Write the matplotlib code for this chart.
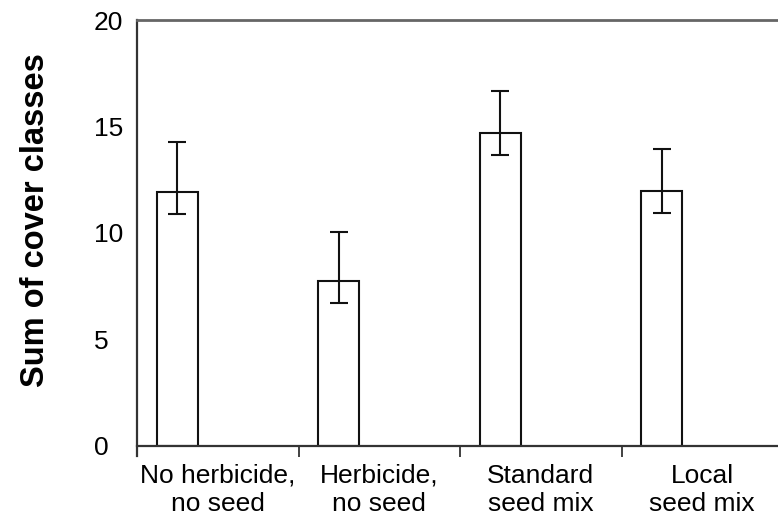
import numpy as np
import matplotlib
matplotlib.use('Agg')
import matplotlib.pyplot as plt

# treatments and cover-class sums
treatments = ['No herbicide,\nno seed', 'Herbicide,\nno seed', 'Standard\nseed mix', 'Local\nseed mix']
means = [11.9, 7.75, 14.7, 11.95]
err_hi = [14.25, 10.05, 16.65, 13.95]
err_lo = [10.9, 6.7, 13.65, 10.95]
yticks = [0, 5, 10, 15, 20]

plt.rcParams['font.family'] = ['Liberation Sans', 'DejaVu Sans']

fig = plt.figure(figsize=(7.78, 5.17), dpi=100)
W, H = 778.0, 517.0
ax = fig.add_axes([137 / W, (H - 445.7) / H, 646 / W, 425.7 / H])

x = np.arange(len(means)) + 0.25
means = np.array(means)
yerr = [means - np.array(err_lo), np.array(err_hi) - means]

ax.bar(x, means, width=0.254, color='white', edgecolor='#111111', linewidth=1.5, zorder=2)
ax.errorbar(x, means, yerr=yerr, fmt='none', ecolor='#111111', elinewidth=1.5,
            capsize=6.5, capthick=1.5, zorder=3)

ax.set_xlim(0, 4)
ax.set_ylim(0, 20)

ax.set_xticks([0, 1, 2, 3, 4])
ax.set_xticklabels([])
ax.set_xticks([0.5, 1.5, 2.5, 3.5], minor=True)
ax.set_xticklabels(treatments, minor=True, fontsize=19, linespacing=1.2)
ax.tick_params(axis='x', which='major', length=8, width=1.3, color='#333333', direction='out')
ax.tick_params(axis='x', which='minor', length=0, pad=13)

ax.set_yticks(yticks)
ax.set_yticklabels([str(v) for v in yticks], fontsize=19, ha='left')
ax.tick_params(axis='y', length=0, pad=31)

for side in ['left', 'bottom']:
    ax.spines[side].set_color('#333333')
    ax.spines[side].set_linewidth(1.6)
ax.spines['top'].set_color('#666666')
ax.spines['top'].set_linewidth(2)
ax.spines['right'].set_visible(False)
ax.spines['left'].set_bounds(-0.5, 20)
ax.spines['left'].set_clip_on(False)

fig.text(36 / W, (H - 220.5) / H, 'Sum of cover classes', rotation=90, ha='center', va='center',
         fontsize=23.5, fontweight='bold')

plt.savefig('out.png', dpi=100)
